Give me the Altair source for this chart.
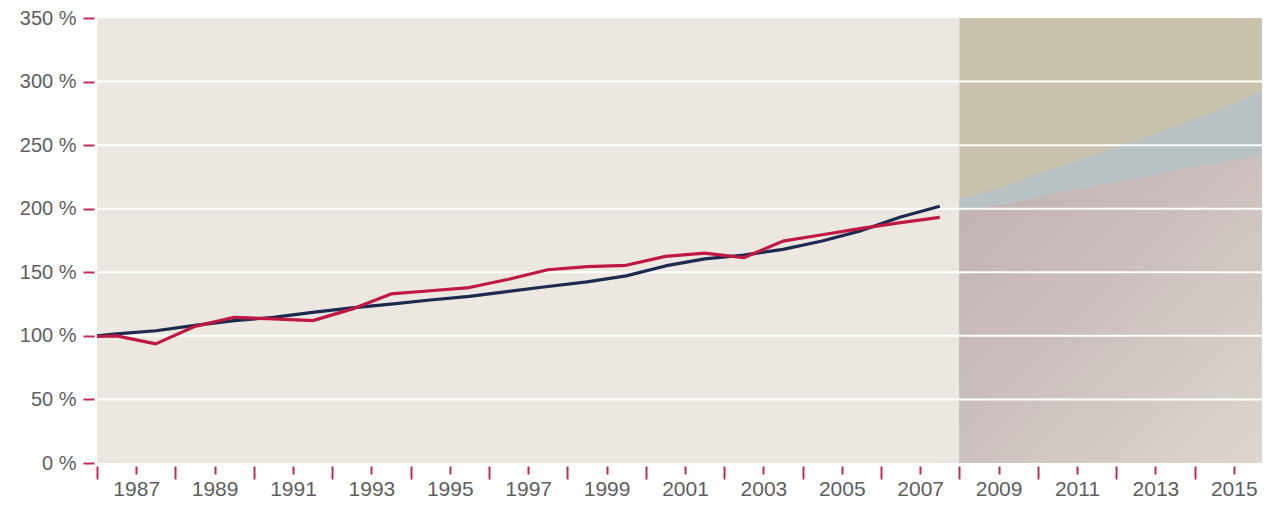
import altair as alt
import pandas as pd

# ---- data ----
hist_x = [1986.0, 1986.5, 1987.5, 1988.5, 1989.5, 1990.5, 1991.5, 1992.5, 1993.5,
          1994.5, 1995.5, 1996.5, 1997.5, 1998.5, 1999.5, 2000.5, 2001.5, 2002.5,
          2003.5, 2004.5, 2005.5, 2006.5, 2007.5]
red_vals = [99.5, 100, 93.7, 107.5, 114.6, 113.3, 112, 121, 133, 135.5, 138, 144.5,
            152, 154.5, 155.5, 162.5, 165, 161.5, 174.5, 179.5, 184.5, 189, 193.2]
blue_vals = [100, 101.5, 104, 108.3, 112, 114.5, 118.5, 122, 125, 128.2, 131, 135,
             138.8, 142.5, 147.2, 155, 160.5, 163.5, 168, 174.6, 182.8, 193.5, 202]

fc_years = [2008, 2009, 2010, 2011, 2012, 2013, 2014, 2015, 2016]
fc_upper = [207.5, 216, 227, 238, 248, 259, 270, 283, 296]
fc_lower = [199, 203, 209, 215.5, 221, 226.5, 233, 238, 244]

y_ticks = [0, 50, 100, 150, 200, 250, 300, 350]
grid_vals = [50, 100, 150, 200, 250, 300]
x_ticks = list(range(1986, 2017))

hist_start, fc_start, x_end = 1986, 2008, 2015.72
y_max = 350

# ---- tables ----
red_df = pd.DataFrame({"year": hist_x, "value": red_vals})
blue_df = pd.DataFrame({"year": hist_x, "value": blue_vals})
fc_df = pd.DataFrame({"year": fc_years, "upper": fc_upper, "lower": fc_lower})
hist_bg = pd.DataFrame({"x0": [hist_start], "x1": [fc_start], "y0": [0], "y1": [y_max]})
fc_bg = pd.DataFrame({"x0": [fc_start], "x1": [2016], "y0": [0], "y1": [y_max]})
grid_df = pd.DataFrame({"v": grid_vals})

CRIMSON = "#c2285a"
FONT = "Liberation Sans"
LABEL = "#5e5e5e"

xscale = alt.Scale(domain=[hist_start, x_end], nice=False, zero=False)
yscale = alt.Scale(domain=[0, y_max], nice=False, zero=True)

xaxis = alt.Axis(
    values=x_ticks, title=None, domain=False, grid=False, offset=3,
    tickColor=CRIMSON, tickWidth=2,
    tickSize={"condition": {"test": "datum.value % 2 == 0", "value": 13}, "value": 8},
    labelExpr="datum.value % 2 == 1 ? '' + datum.value : ''",
    labelFont=FONT, labelFontSize=21, labelColor=LABEL, labelPadding=4,
    labelFlush=False, labelOverlap=False,
)
yaxis = alt.Axis(
    values=y_ticks, title=None, domain=False, grid=False, offset=3,
    tickColor=CRIMSON, tickWidth=2, tickSize=11,
    labelExpr="datum.value + ' %'",
    labelFont=FONT, labelFontSize=20, labelColor=LABEL, labelPadding=7,
)

bg_hist = alt.Chart(hist_bg).mark_rect(color="#ece8e1").encode(
    x=alt.X("x0:Q", scale=xscale, axis=xaxis),
    x2="x1:Q",
    y=alt.Y("y0:Q", scale=yscale, axis=yaxis),
    y2="y1:Q",
)
bg_fc = alt.Chart(fc_bg).mark_rect(color="#c9c3ad", clip=True).encode(
    x=alt.X("x0:Q", scale=xscale, axis=xaxis),
    x2="x1:Q",
    y=alt.Y("y0:Q", scale=yscale, axis=yaxis),
    y2="y1:Q",
)

upper_area = alt.Chart(fc_df).mark_area(
    color="#b8c1c3", interpolate="monotone", clip=True
).encode(
    x=alt.X("year:Q", scale=xscale, axis=xaxis),
    y=alt.Y("upper:Q", scale=yscale, axis=yaxis),
)

lower_area = alt.Chart(fc_df).mark_area(
    interpolate="monotone", clip=True,
    color=alt.Gradient(
        gradient="linear", x1=0, y1=0, x2=1, y2=1,
        stops=[alt.GradientStop(color="#c2b1b2", offset=0),
               alt.GradientStop(color="#c9bdbb", offset=0.4),
               alt.GradientStop(color="#ddd7cf", offset=1)],
    ),
).encode(
    x=alt.X("year:Q", scale=xscale, axis=xaxis),
    y=alt.Y("lower:Q", scale=yscale, axis=yaxis),
)

grid = alt.Chart(grid_df).mark_rule(color="white", strokeWidth=2).encode(
    y=alt.Y("v:Q", scale=yscale, axis=yaxis),
)


def line_layer(df, color):
    return alt.Chart(df).mark_line(color=color, strokeWidth=3.2, strokeJoin="round").encode(
        x=alt.X("year:Q", scale=xscale, axis=xaxis),
        y=alt.Y("value:Q", scale=yscale, axis=yaxis),
    )


blue_line = line_layer(blue_df, "#1c2a4d")
red_line = line_layer(red_df, "#bf1845")

chart = alt.layer(bg_hist, bg_fc, upper_area, lower_area, grid, blue_line, red_line).properties(
    width=1165, height=445,
    autosize=alt.AutoSizeParams(type="none"),
    padding={"left": 89, "top": 10, "right": 0, "bottom": 42},
    background="white",
).configure_view(stroke=None)

chart.save("out.html", embed_options={"renderer": "svg", "actions": False})
